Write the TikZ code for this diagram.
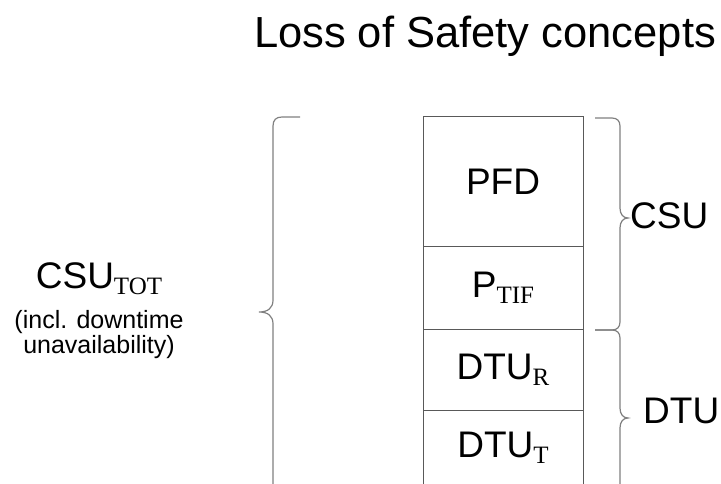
\documentclass[tikz,border=0pt]{standalone}
\usepackage{fontspec}
\setmainfont{Liberation Sans}
\newfontfamily\subfont{Liberation Serif}
\usetikzlibrary{positioning}

\newcommand\lowsub[1]{\raisebox{-6pt}{\subfont\fontsize{25}{25}\selectfont #1}}

\tikzset{
  cell/.style={draw=black!65, line width=1pt, minimum width=160pt,
    inner sep=0pt, outer sep=0pt, font=\fontsize{37}{40}\selectfont},
  brc/.style={draw=black!50, line width=1.2pt},
  lbl/.style={inner sep=0pt, anchor=base west, font=\fontsize{37}{40}\selectfont}
}

\begin{document}
\begin{tikzpicture}[x=1pt, y=-1pt]

\clip (0,0) rectangle (721,484); %% page size

\newcommand\sidebrace[3]{%% right brace: top, tip, bottom
\draw[brc] (595,#1) -- (612,#1) .. controls (617,#1) and (620,#1+3) .. (620,#1+8)
  -- (620,#2-10) .. controls (620,#2-4) and (623,#2) .. (628,#2)
  .. controls (623,#2) and (620,#2+4) .. (620,#2+10)
  -- (620,#3-8) .. controls (620,#3-3) and (617,#3) .. (612,#3) -- (595,#3);}

\node[inner sep=0pt, anchor=base, font=\fontsize{43.5}{48}\selectfont]
  (title) at (485,48) {Loss of Safety concepts};

%% the stack
\node[cell, minimum height=130pt] (pfd) at (503,182) {PFD};
\node[cell, minimum height=82pt, below=0pt of pfd] (ptif) {P\lowsub{TIF}};
\node[cell, minimum height=81pt, below=0pt of ptif] (dtur) {DTU\lowsub{R}};
\node[cell, minimum height=76pt, below=0pt of dtur] (dtut) {DTU\lowsub{T}};

%% left side
\node[inner sep=0pt, anchor=base, font=\fontsize{37}{40}\selectfont]
  (csutot) at (99,288) {CSU\lowsub{TOT}};
\node[inner sep=0pt, anchor=base, align=center, font=\fontsize{25}{21}\selectfont]
  (incl) at (99,353) {(incl. downtime\\unavailability)};

\draw[brc] (300,117) -- (282,117) .. controls (276,117) and (273,120) .. (273,126)
  -- (273,300) .. controls (273,308) and (268,312) .. (259,312)
  .. controls (268,312) and (273,316) .. (273,324)
  -- (273,498) .. controls (273,504) and (276,507) .. (282,507) -- (300,507);

%% right side
\sidebrace{118}{218}{330}
\sidebrace{330}{418}{506}

\node[lbl] (csu) at (630,229) {CSU};
\node[lbl] (dtu) at (643,423) {DTU};

\end{tikzpicture}
\end{document}
